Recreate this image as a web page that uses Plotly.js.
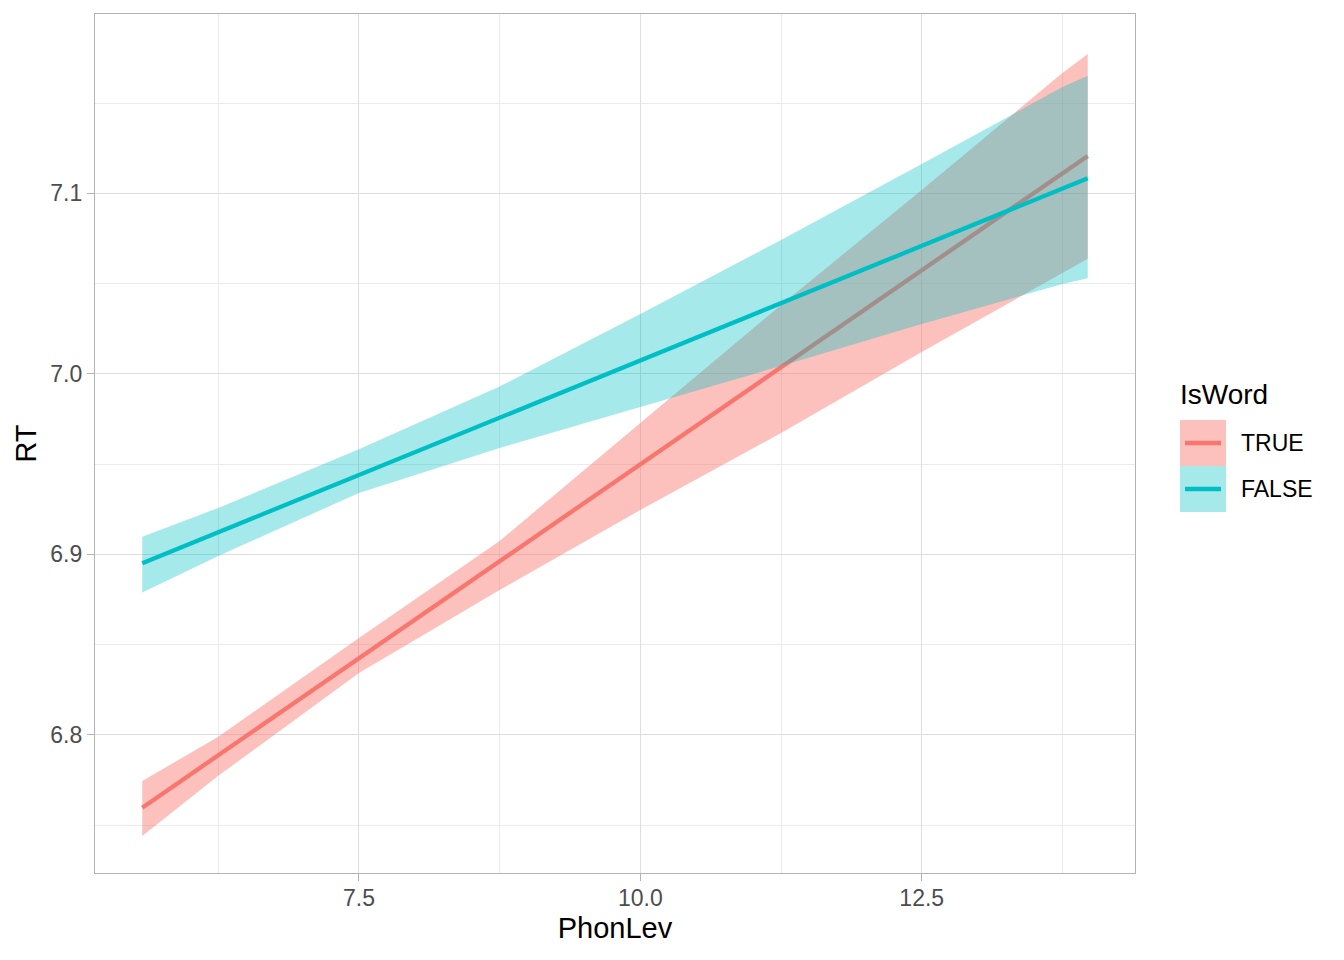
<!DOCTYPE html>
<html>
<head>
<meta charset="utf-8">
<script src="https://cdn.plot.ly/plotly-3.0.1.min.js"></script>
<style>
  body { margin: 0; background: #fff; }
  #chart { width: 1344px; height: 960px; }
</style>
</head>
<body>
<div id="chart"></div>
<script>
var phonLev = [5.575, 6.25, 7.5, 8.75, 10, 11.25, 12.5, 13.75, 13.975];

// IsWord = TRUE
var fitTrue   = [6.7597, 6.7887, 6.8424, 6.8962, 6.9499, 7.0036, 7.0573, 7.1110, 7.1207];
var lowerTrue = [6.7440, 6.7773, 6.8343, 6.8803, 6.9246, 6.9672, 7.0121, 7.0558, 7.0637];
var upperTrue = [6.7745, 6.7989, 6.8537, 6.9074, 6.9728, 7.0381, 7.1018, 7.1666, 7.1771];

// IsWord = FALSE
var fitFalse   = [6.8951, 6.9122, 6.9439, 6.9756, 7.0074, 7.0391, 7.0708, 7.1026, 7.1083];
var lowerFalse = [6.8788, 6.8991, 6.9340, 6.9589, 6.9818, 7.0043, 7.0276, 7.0497, 7.0529];
var upperFalse = [6.9098, 6.9257, 6.9582, 6.9930, 7.0331, 7.0741, 7.1162, 7.1588, 7.1651];

var groups = ['TRUE', 'FALSE'];
var colors = ['248,118,109', '0,191,196'];   // ggplot hue colours
var bandAlpha = [0.45, 0.35];

var font = '"Liberation Sans", Arial, Helvetica, sans-serif';

function ribbon(lo, hi, rgb, alpha) {
  // closed polygon: upper edge forward, lower edge back
  return {
    x: phonLev.concat(phonLev.slice().reverse()),
    y: hi.concat(lo.slice().reverse()),
    type: 'scatter',
    mode: 'lines',
    fill: 'toself',
    fillcolor: 'rgba(' + rgb + ',' + alpha + ')',
    line: { width: 0, color: 'rgba(0,0,0,0)' },
    hoverinfo: 'skip',
    showlegend: false
  };
}

function fitLine(y, rgb, name) {
  return {
    x: phonLev,
    y: y,
    type: 'scatter',
    mode: 'lines',
    name: name,
    line: { color: 'rgb(' + rgb + ')', width: 4.3 },
    showlegend: false
  };
}

var data = [
  ribbon(lowerTrue, upperTrue, colors[0], bandAlpha[0]),
  fitLine(fitTrue, colors[0], groups[0]),
  ribbon(lowerFalse, upperFalse, colors[1], bandAlpha[1]),
  fitLine(fitFalse, colors[1], groups[1])
];

// legend drawn by hand so the keys look like ggplot's square keys
var W = 1344, H = 960, M = { l: 95, r: 209, t: 14, b: 87 };
function px(x) { return (x - M.l) / (W - M.l - M.r); }
function py(y) { return (H - M.b - y) / (H - M.t - M.b); }

var shapes = [], annotations = [];
annotations.push({
  text: 'IsWord', xref: 'paper', yref: 'paper', x: px(1178), y: py(394),
  xanchor: 'left', yanchor: 'middle', showarrow: false,
  font: { family: font, size: 28, color: '#000' }
});
groups.forEach(function (g, i) {
  var top = 420 + i * 46;
  shapes.push({
    type: 'rect', xref: 'paper', yref: 'paper',
    x0: px(1180), x1: px(1226), y0: py(top), y1: py(top + 46),
    fillcolor: 'rgba(' + colors[i] + ',' + bandAlpha[i] + ')', line: { width: 0 }
  });
  shapes.push({
    type: 'line', xref: 'paper', yref: 'paper',
    x0: px(1185), x1: px(1221), y0: py(top + 23), y1: py(top + 23),
    line: { color: 'rgb(' + colors[i] + ')', width: 4.3 }
  });
  annotations.push({
    text: g, xref: 'paper', yref: 'paper', x: px(1239), y: py(top + 23),
    xanchor: 'left', yanchor: 'middle', showarrow: false,
    font: { family: font, size: 23, color: '#000' }
  });
});

var axisCommon = {
  showline: true, mirror: true, linecolor: '#B3B3B3', linewidth: 1.3,
  showgrid: true, gridcolor: '#DEDEDE', gridwidth: 1.3,
  zeroline: false,
  ticks: 'outside', ticklen: 7, tickwidth: 1.3, tickcolor: '#B3B3B3',
  tickfont: { family: font, size: 23, color: '#4D4D4D' },
  tickformat: '.1f'
};

var layout = {
  width: W, height: H,
  margin: M,
  paper_bgcolor: '#fff', plot_bgcolor: '#fff',
  font: { family: font },
  xaxis: Object.assign({}, axisCommon, {
    range: [5.155, 14.395],
    tick0: 0, dtick: 2.5,
    ticklabelstandoff: -3,
    minor: { tick0: 0, dtick: 1.25, showgrid: true, gridcolor: '#EBEBEB', gridwidth: 0.8, ticks: '' },
    title: { text: 'PhonLev', font: { family: font, size: 29, color: '#000' }, standoff: 7 }
  }),
  yaxis: Object.assign({}, axisCommon, {
    range: [6.7235, 7.1993],
    tick0: 0, dtick: 0.1,
    minor: { tick0: 0, dtick: 0.05, showgrid: true, gridcolor: '#EBEBEB', gridwidth: 0.8, ticks: '' },
    title: { text: 'RT', font: { family: font, size: 29, color: '#000' }, standoff: 5 }
  }),
  shapes: shapes,
  annotations: annotations,
  showlegend: false
};

Plotly.newPlot('chart', data, layout, { displayModeBar: false, responsive: false });
</script>
</body>
</html>
